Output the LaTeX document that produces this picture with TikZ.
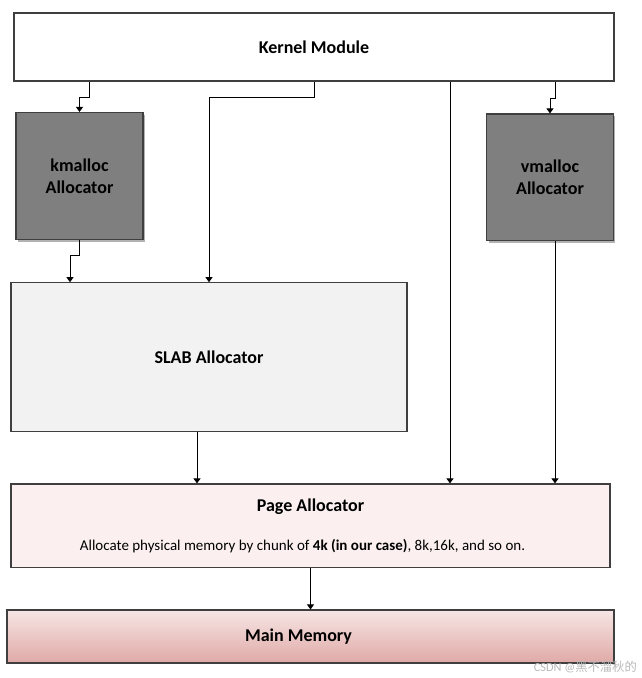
\documentclass[tikz,border=0pt]{standalone}
\usepackage{fontspec}
\setmainfont{Carlito}
\newfontfamily\cjkfont{Noto Sans CJK SC}
\usetikzlibrary{arrows.meta,shadows,calc}
\definecolor{edgec}{HTML}{3F3F3F}
\definecolor{darkbox}{HTML}{7F7F7F}
\definecolor{slabfill}{HTML}{F2F2F2}
\definecolor{pagefill}{HTML}{FBF0EF}
\definecolor{memtop}{HTML}{F6E6E5}
\definecolor{membot}{HTML}{DFA9A6}
\tikzset{
  box/.style={draw=edgec, line width=1.1pt, inner sep=0pt, align=center,
    font=\fontsize{18}{22}\selectfont\bfseries},
  darkboxstyle/.style={box, fill=darkbox,
    drop shadow={shadow xshift=2pt, shadow yshift=-2pt, fill=black, opacity=0.3}},
  arr/.style={draw=black, line width=0.9pt, -{Triangle[width=7pt,length=5pt]}},
  titletext/.style={inner sep=0pt, font=\fontsize{18}{22}\selectfont\bfseries},
  bodytext/.style={inner sep=0pt, font=\fontsize{15}{18}\selectfont},
}
\begin{document}
\begin{tikzpicture}[x=1pt,y=-1pt]
\useasboundingbox (0,0) rectangle (641,678);
\fill[white] (0,0) rectangle (641,678);

\node[box, fill=white, minimum width=600pt, minimum height=68pt] (kern) at (314,47) {Kernel Module};
\node[darkboxstyle, minimum width=127pt, minimum height=127pt] (km) at (79.5,176) {kmalloc\\Allocator};
\node[darkboxstyle, minimum width=126.6pt, minimum height=126.7pt] (vm) at (550,177.3) {vmalloc\\Allocator};
\node[box, fill=slabfill, minimum width=396pt, minimum height=148.3pt] (slab) at (209,356.9) {SLAB Allocator};
\node[box, fill=pagefill, minimum width=599pt, minimum height=83.7pt] (page) at (310.5,525.8) {};
\node[box, top color=memtop, bottom color=membot, minimum width=607pt, minimum height=53pt] (mem) at (310.5,636.5) {};

\node[titletext] (ptitle) at ($(page.north)+(0,23)$) {Page Allocator};
\node[bodytext] (pbody) at ($(page.north)+(-8,63)$) {Allocate physical memory by chunk of \textbf{4k (in our case)}, 8k,16k, and so on.};
\node[titletext] (mtitle) at ($(mem.center)+(-12,0)$) {Main Memory};

\coordinate (c1) at (89,0);
\coordinate (c2) at (209,0);
\coordinate (c3) at (450,0);
\coordinate (c4) at (555,0);
\coordinate (c5) at (70,0);
\coordinate (c6) at (197,0);

\draw[arr] (c1 |- kern.south) -- ++(0,15.5) -| (km.north);
\draw[arr] (kern.south) -- ++(0,16) -| (c2 |- slab.north);
\draw[arr] (c3 |- kern.south) -- (c3 |- page.north);
\draw[arr] (c4 |- kern.south) -- ++(0,16.5) -| (vm.north);
\draw[arr] (km.south) -- ++(0,15.5) -| (c5 |- slab.north);
\draw[arr] (c6 |- slab.south) -- (c6 |- page.north);
\draw[arr] (c4 |- vm.south) -- (c4 |- page.north);
\draw[arr] (page.south) -- (mem.north);

\node[anchor=east, inner sep=0pt, text=gray!55, font=\fontsize{12.3}{13}\selectfont] (wm) at (637,667) {CSDN @{\cjkfont 黑不溜秋的}};
\end{tikzpicture}
\end{document}
